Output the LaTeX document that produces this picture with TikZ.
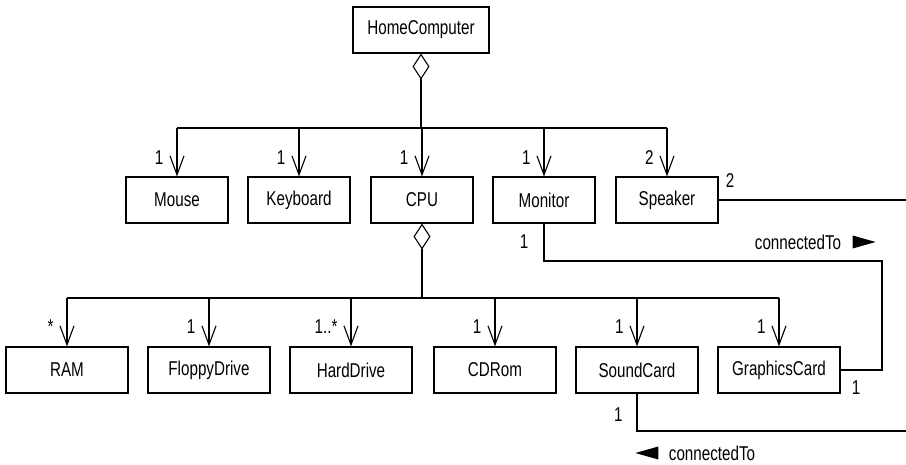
\documentclass[tikz,border=0pt]{standalone}
\usepackage{fontspec}
\setmainfont{Liberation Sans}[FakeStretch=0.76]
\usetikzlibrary{arrows.meta}
\begin{document}
\begin{tikzpicture}[x=1pt,y=-1pt,line width=1.1pt,
  cls/.style={draw,minimum height=46pt,inner sep=0pt,font=\fontsize{20}{24}\selectfont},
  mult/.style={font=\fontsize{20}{24}\selectfont,inner sep=0pt},
  has/.style={-{Straight Barb[length=19pt,width=14pt]}},
  agg/.style={{Diamond[open,length=26pt,width=17pt]}-}]
  \useasboundingbox (0,0) rectangle (906,465);
  % classes
  \node[cls,minimum width=136pt] (home) at (421,30) {HomeComputer};
  \node[cls,minimum width=102pt] (mouse) at (177,200) {Mouse};
  \node[cls,minimum width=102pt] (keyboard) at (299,200) {Keyboard};
  \node[cls,minimum width=102pt] (cpu) at (422,200) {CPU};
  \node[cls,minimum width=102pt] (monitor) at (544,200) {Monitor};
  \node[cls,minimum width=102pt] (speaker) at (667,200) {Speaker};
  \node[cls,minimum width=122pt] (ram) at (67,370) {RAM};
  \node[cls,minimum width=122pt] (floppy) at (209,370) {FloppyDrive};
  \node[cls,minimum width=122pt] (hdd) at (351,370) {HardDrive};
  \node[cls,minimum width=122pt] (cdrom) at (495,370) {CDRom};
  \node[cls,minimum width=122pt] (scard) at (637,370) {SoundCard};
  \node[cls,minimum width=122pt] (gcard) at (779,370) {GraphicsCard};
  % aggregation HomeComputer
  \draw[agg] (home.south) -- (421,128) coordinate (bus1);
  \draw (mouse.north |- bus1) -- (speaker.north |- bus1);
  \foreach \n/\m in {mouse/1,keyboard/1,cpu/1,monitor/1,speaker/2} {
    \draw[has] (\n.north |- bus1) -- (\n.north);
    \path (\n.north) ++(-13,-19) node[mult,anchor=east] {\m};
  }
  % aggregation CPU
  \draw[agg] (cpu.south) -- (422,298) coordinate (bus2);
  \draw (ram.north |- bus2) -- (gcard.north |- bus2);
  \foreach \n/\m in {ram/*,floppy/1,hdd/1..*,cdrom/1,scard/1,gcard/1} {
    \draw[has] (\n.north |- bus2) -- (\n.north);
    \path (\n.north) ++(-13,-20) node[mult,anchor=east] {\m};
  }
  % connectedTo
  \coordinate (spkend) at (906,200);
  \coordinate (mbend) at (882,261);
  \coordinate (sndend) at (906,431);
  \draw (speaker.east) -- (spkend);
  \node[mult] (spk2) at (730,181) {2};
  \draw (monitor.south) |- (mbend) |- (gcard.east);
  \node[mult,anchor=east] (mon1) at (529,242) {1};
  \node[mult] (gc1) at (856,388) {1};
  \node[mult] (conn1) at (798,242) {connectedTo};
  \fill ([xshift=11pt]conn1.east) -- ++(0,-6.5) -- ++(23,6.5) -- ++(-23,6.5) -- cycle;
  \draw (scard.south) |- (sndend);
  \node[mult,anchor=east] (snd1) at (623,415) {1};
  \node[mult] (conn2) at (712,453) {connectedTo};
  \fill ([xshift=-10pt]conn2.west) -- ++(0,-6.5) -- ++(-23,6.5) -- ++(23,6.5) -- cycle;
\end{tikzpicture}
\end{document}
